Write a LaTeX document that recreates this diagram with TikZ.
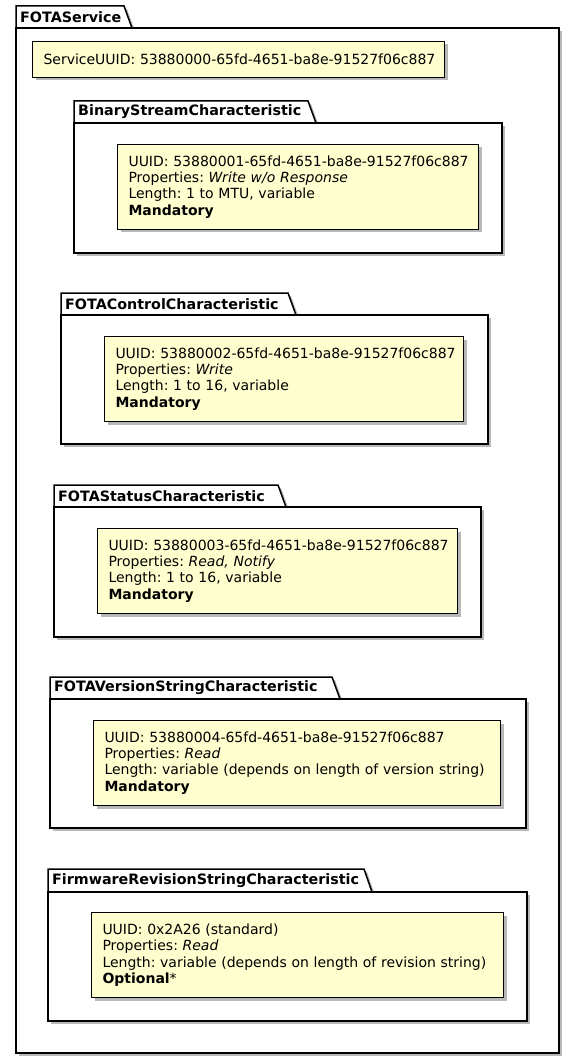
\documentclass[tikz,border=0pt]{standalone}
\usepackage{fontspec}
\setmainfont{DejaVu Sans}[ItalicFont={DejaVu Sans Oblique},BoldFont={DejaVu Sans Bold},BoldItalicFont={DejaVu Sans Bold Oblique}]
\usetikzlibrary{shadows}
\definecolor{notebg}{HTML}{FEFECE}
\frenchspacing
\tikzset{
  shadowed/.style={drop shadow={shadow xshift=3pt, shadow yshift=-3pt, fill=black, opacity=0.28}},
  pkgline/.style={draw=black, line width=1.5pt, fill=white, line join=miter, shadowed},
  notebox/.style={draw=black, line width=1pt, fill=notebg, shadowed, inner xsep=11pt, inner ysep=0pt,
    align=left, anchor=north west, font=\fontsize{14}{16.3}\selectfont\frenchspacing},
  pkgtitle/.style={font=\fontsize{14.3}{16}\selectfont\bfseries, anchor=west, inner sep=0pt},
}
% #1 name, #2 x0, #3 x1, #4 ytab, #5 ybody, #6 ybottom, #7 tab right x, #8 title
\newcommand\umlpkg[8]{%
  \draw[pkgline] (#2,#5) -- (#2,#4) -- (#7,#4) -- (#7+8,#5) -- cycle;
  \draw[pkgline] (#2,#5) rectangle (#3,#6);
  \node[pkgtitle] (#1) at (#2+4,{(#4+#5)/2}) {#8};
}
\begin{document}
\begin{tikzpicture}[x=1pt,y=-1pt]
\useasboundingbox[fill=white] (0,0) rectangle (575,1059);
\umlpkg{fota}{16}{559}{6}{28}{1053}{124}{FOTAService}
\node[notebox, text width=390pt, minimum height=36pt] (svcuuid) at (32,41)
  {\mbox{ServiceUUID: 53880000-65fd-4651-ba8e-91527f06c887}};

\umlpkg{binary}{74}{502}{101}{123}{253}{308}{BinaryStreamCharacteristic}
\node[notebox, text width=339pt, minimum height=85pt] (binarynote) at (117,144)
  {\mbox{UUID: 53880001-65fd-4651-ba8e-91527f06c887}\\
   \mbox{Properties: \textit{Write w/o Response}}\\
   \mbox{Length: 1 to MTU, variable}\\
   \textbf{Mandatory}};

\umlpkg{control}{61}{488}{293}{315}{444}{288}{FOTAControlCharacteristic}
\node[notebox, text width=337pt, minimum height=85pt] (controlnote) at (104,336)
  {\mbox{UUID: 53880002-65fd-4651-ba8e-91527f06c887}\\
   \mbox{Properties: \textit{Write}}\\
   \mbox{Length: 1 to 16, variable}\\
   \textbf{Mandatory}};

\umlpkg{status}{54}{481}{485}{507}{637}{278}{FOTAStatusCharacteristic}
\node[notebox, text width=338pt, minimum height=85pt] (statusnote) at (97,528)
  {\mbox{UUID: 53880003-65fd-4651-ba8e-91527f06c887}\\
   \mbox{Properties: \textit{Read, Notify}}\\
   \mbox{Length: 1 to 16, variable}\\
   \textbf{Mandatory}};

\umlpkg{version}{50}{526}{677}{699}{828}{332}{FOTAVersionStringCharacteristic}
\node[notebox, text width=385pt, minimum height=85pt] (versionnote) at (93,720)
  {\mbox{UUID: 53880004-65fd-4651-ba8e-91527f06c887}\\
   \mbox{Properties: \textit{Read}}\\
   \mbox{Length: variable (depends on length of version string)}\\
   \textbf{Mandatory}};

\umlpkg{firmware}{48}{527}{869}{892}{1021}{364}{FirmwareRevisionStringCharacteristic}
\node[notebox, text width=390pt, minimum height=85pt] (firmwarenote) at (91,912)
  {\mbox{UUID: 0x2A26 (standard)}\\
   \mbox{Properties: \textit{Read}}\\
   \mbox{Length: variable (depends on length of revision string)}\\
   \textbf{Optional}*};
\end{tikzpicture}
\end{document}
